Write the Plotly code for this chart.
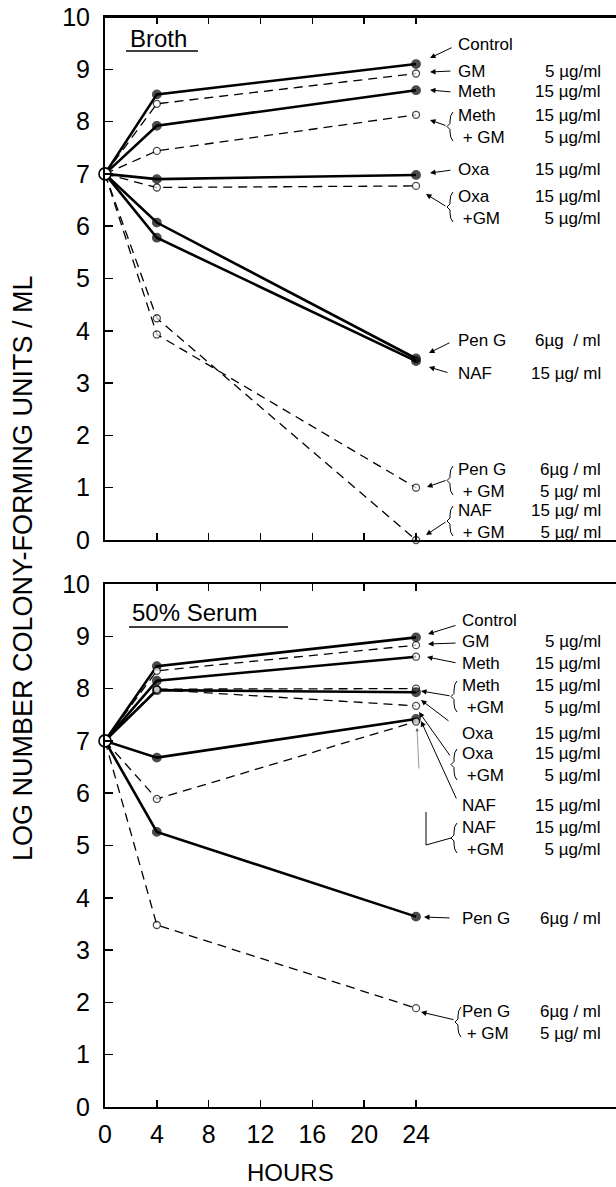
import plotly.graph_objects as go

# ---------------- data ----------------
hours = [0, 4, 24]
x_tick_vals = [0, 4, 8, 12, 16, 20, 24]
x_tick_text = ["0", "4", "8", "12", "16", "20", "24"]
y_tick_vals = [0, 1, 2, 3, 4, 5, 6, 7, 8, 9, 10]
y_tick_text = ["0", "1", "2", "3", "4", "5", "6", "7", "8", "9", "10"]

series = ["Control", "GM", "Meth", "Meth+GM", "Oxa", "Oxa+GM", "Pen G", "NAF", "Pen G+GM", "NAF+GM"]

# Broth (log CFU/ml at 0, 4, 24 h)
broth_control = [7.0, 8.52, 9.10]
broth_gm = [7.0, 8.34, 8.92]
broth_meth = [7.0, 7.92, 8.60]
broth_meth_gm = [7.0, 7.44, 8.13]
broth_oxa = [7.0, 6.90, 6.98]
broth_oxa_gm = [7.0, 6.74, 6.77]
broth_peng = [7.0, 6.07, 3.47]
broth_naf = [7.0, 5.78, 3.42]
broth_peng_gm = [7.0, 3.93, 1.00]
broth_naf_gm = [7.0, 4.24, 0.00]

# 50% Serum
serum_control = [7.0, 8.43, 8.98]
serum_gm = [7.0, 8.34, 8.83]
serum_meth = [7.0, 8.15, 8.61]
serum_meth_gm = [7.0, 7.99, 8.00]
serum_oxa = [7.0, 7.97, 7.93]
serum_oxa_gm = [7.0, 7.98, 7.67]
serum_peng = [7.0, 5.26, 3.64]
serum_naf = [7.0, 6.68, 7.42]
serum_peng_gm = [7.0, 3.48, 1.89]
serum_naf_gm = [7.0, 5.89, 7.37]

broth_names = ["Control", "GM", "Meth", "Meth<br> + GM", "Oxa", "Oxa<br> +GM",
               "Pen G", "NAF", "Pen G<br> + GM", "NAF<br> + GM"]
broth_conc = ["", "5 µg/ml", "15 µg/ml", "15 µg/ml<br>5 µg/ml", "15 µg/ml",
              "15 µg/ml<br>5 µg/ml", "6µg  / ml", "15 µg/ ml", "6µg / ml<br>5 µg/ ml",
              "15 µg/ ml<br>5 µg/ ml"]
serum_names = ["Control", "GM", "Meth", "Meth<br> +GM", "Oxa", "Oxa<br> +GM",
               "NAF", "NAF<br> +GM", "Pen G", "Pen G<br> + GM"]
serum_conc = ["", "5 µg/ml", "15 µg/ml", "15 µg/ml<br>5 µg/ml", "15 µg/ml",
              "15 µg/ml<br>5 µg/ml", "15 µg/ml", "15 µg/ml<br>5 µg/ml", "6µg / ml",
              "6µg / ml<br>5 µg/ ml"]

broth = {"Control": broth_control, "GM": broth_gm, "Meth": broth_meth, "Meth+GM": broth_meth_gm,
         "Oxa": broth_oxa, "Oxa+GM": broth_oxa_gm, "Pen G": broth_peng, "NAF": broth_naf,
         "Pen G+GM": broth_peng_gm, "NAF+GM": broth_naf_gm}
serum = {"Control": serum_control, "GM": serum_gm, "Meth": serum_meth, "Meth+GM": serum_meth_gm,
         "Oxa": serum_oxa, "Oxa+GM": serum_oxa_gm, "Pen G": serum_peng, "NAF": serum_naf,
         "Pen G+GM": serum_peng_gm, "NAF+GM": serum_naf_gm}

# ---------------- styling / geometry ----------------
FONT = "Liberation Sans"
W, H = 616, 1187
L_PX, T_PX, B_PX = 105, 17, 80
X_MAX = (W - L_PX) / 12.96
TOP_ZERO, BOT_ZERO, PX_UNIT = 540.0, 1107.0, 52.3
PLOT_H = H - T_PX - B_PX

def hx(px):
    return (px - L_PX) / 12.96

def vy(py, panel):
    return ((TOP_ZERO if panel == 0 else BOT_ZERO) - py) / PX_UNIT

solid = {"Control", "Meth", "Oxa", "Pen G", "NAF"}
fills_broth = {s: [s in solid] * 2 for s in series}
fills_serum = {s: [s in solid] * 2 for s in series}
fills_serum["Meth"] = [True, False]

fig = go.Figure()

def add_panel(data, fills, xa, ya):
    for s in series:
        y = data[s]
        is_solid = s in solid
        fig.add_trace(go.Scatter(
            x=hours, y=y, mode="lines", xaxis=xa, yaxis=ya, showlegend=False,
            line=dict(color="black", width=2.6 if is_solid else 1.3,
                      dash="solid" if is_solid else "9px,6px"),
            hoverinfo="skip"))
    for s in series:
        y = data[s]
        f = fills[s]
        fig.add_trace(go.Scatter(
            x=hours[1:], y=y[1:], mode="markers", xaxis=xa, yaxis=ya, showlegend=False,
            cliponaxis=False,
            marker=dict(size=[8.5 if ff else 7 for ff in f],
                        color=["black" if ff else "white" for ff in f],
                        line=dict(color="black", width=1.3)),
            hoverinfo="skip"))
    fig.add_trace(go.Scatter(
        x=[hours[0]], y=[data["Control"][0]], mode="markers", xaxis=xa, yaxis=ya,
        showlegend=False, cliponaxis=False,
        marker=dict(size=12, color="white", line=dict(color="black", width=1.6)),
        hoverinfo="skip"))

add_panel(broth, fills_broth, "x", "y")
add_panel(serum, fills_serum, "x2", "y2")

annotations = []
shapes = []
LBL = 17

def label_block(panel, names, concs, ys, name_x, conc_x):
    xr, yr = ("x", "y") if panel == 0 else ("x2", "y2")
    for n, c, py in zip(names, concs, ys):
        annotations.append(dict(x=hx(name_x), y=vy(py, panel), xref=xr, yref=yr, text=n,
                                showarrow=False, xanchor="left", yanchor="middle", align="left",
                                font=dict(family=FONT, size=LBL, color="black")))
        if c:
            annotations.append(dict(x=hx(conc_x), y=vy(py, panel), xref=xr, yref=yr, text=c,
                                    showarrow=False, xanchor="right", yanchor="middle", align="right",
                                    font=dict(family=FONT, size=LBL, color="black")))

def arrow(panel, tail, tip):
    xr, yr = ("x", "y") if panel == 0 else ("x2", "y2")
    annotations.append(dict(x=hx(tip[0]), y=vy(tip[1], panel), ax=hx(tail[0]), ay=vy(tail[1], panel),
                            xref=xr, yref=yr, axref=xr, ayref=yr, text="", showarrow=True,
                            arrowhead=2, arrowsize=1.1, arrowwidth=1.0, arrowcolor="black",
                            standoff=0, startstandoff=0))

def brace(panel, xb, ytop, ybot):
    xr, yr = ("x", "y") if panel == 0 else ("x2", "y2")
    ym = (ytop + ybot) / 2
    pts = lambda px, py: f"{hx(px)},{vy(py, panel)}"
    path = (f"M {pts(xb + 3, ytop)} Q {pts(xb, ytop + 3)} {pts(xb, ytop + 9)} "
            f"L {pts(xb, ym - 3)} L {pts(xb - 3, ym)} L {pts(xb, ym + 3)} "
            f"L {pts(xb, ybot - 9)} Q {pts(xb, ybot - 3)} {pts(xb + 3, ybot)}")
    shapes.append(dict(type="path", path=path, xref=xr, yref=yr,
                       line=dict(color="black", width=1)))

# top panel labels
label_block(0, broth_names, broth_conc, [44, 71, 91, 126.5, 169, 207, 340, 373, 480, 521], 456, 603)
arrow(0, (453, 47), (430, 58))
arrow(0, (452, 71), (430, 72))
arrow(0, (452, 92), (430, 90))
brace(0, 450, 112, 141); arrow(0, (447, 126), (430, 120))
arrow(0, (452, 170), (430, 173))
brace(0, 450, 192, 222); arrow(0, (447, 207), (426, 194))
arrow(0, (451, 342), (429, 353))
arrow(0, (449, 373), (429, 367))
brace(0, 450, 466, 495); arrow(0, (447, 480), (427, 487))
brace(0, 450, 506, 536); arrow(0, (447, 521), (426, 535))

# bottom panel labels
label_block(1, serum_names, serum_conc, [620, 641, 663, 696.5, 733, 764.5, 805, 838, 918, 1022], 460, 603)
arrow(1, (457, 625), (428, 634))
arrow(1, (457, 643), (428, 644))
arrow(1, (457, 663), (427, 657))
brace(1, 454, 681, 712); arrow(1, (451, 696), (421, 691))
arrow(1, (450, 722), (421, 700))
brace(1, 454, 749, 780); arrow(1, (451, 757), (419, 712))
arrow(1, (457, 800), (421, 721))
brace(1, 454, 823, 853)
shapes.append(dict(type="path", xref="x2", yref="y2", line=dict(color="black", width=1),
                   path=f"M {hx(451)},{vy(838, 1)} L {hx(426)},{vy(845, 1)} L {hx(426)},{vy(812, 1)}"))
annotations.append(dict(x=hx(417), y=vy(728, 1), ax=hx(419), ay=vy(770, 1), xref="x2", yref="y2",
                        axref="x2", ayref="y2", text="", showarrow=True, arrowhead=2, arrowsize=1.1,
                        arrowwidth=0.6, arrowcolor="#555", standoff=0))
arrow(1, (451, 918), (424, 917))
brace(1, 458, 1007, 1037); arrow(1, (455, 1020), (421, 1012))

# panel titles with underline
annotations.append(dict(x=hx(128), y=vy(38, 0), xref="x", yref="y", text="Broth", showarrow=False,
                        xanchor="left", yanchor="middle", font=dict(family=FONT, size=24, color="black")))
shapes.append(dict(type="line", xref="x", yref="y", x0=hx(126), x1=hx(198), y0=vy(51, 0), y1=vy(51, 0),
                   line=dict(color="black", width=1.5)))
annotations.append(dict(x=hx(130), y=vy(612, 1), xref="x2", yref="y2", text="50% Serum", showarrow=False,
                        xanchor="left", yanchor="middle", font=dict(family=FONT, size=24, color="black")))
shapes.append(dict(type="line", xref="x2", yref="y2", x0=hx(129), x1=hx(288), y0=vy(627, 1), y1=vy(627, 1),
                   line=dict(color="black", width=1.5)))

# frame line along the top of the upper panel
shapes.append(dict(type="line", xref="x domain", yref="y domain", x0=0, x1=1, y0=1, y1=1,
                   line=dict(color="black", width=2)))

# axis titles (paper coords relative to plot area)
annotations.append(dict(x=(23 - L_PX) / (W - L_PX), y=(BOT_ZERO - 568) / PLOT_H, xref="paper", yref="paper",
                        text="LOG NUMBER COLONY-FORMING UNITS / ML", textangle=-90, showarrow=False,
                        xanchor="center", yanchor="middle", font=dict(family=FONT, size=27, color="black")))
annotations.append(dict(x=(290 - L_PX) / (W - L_PX), y=(BOT_ZERO - 1172) / PLOT_H, xref="paper", yref="paper",
                        text="HOURS", showarrow=False, xanchor="center", yanchor="middle",
                        font=dict(family=FONT, size=24, color="black")))

xcommon = dict(range=[0, X_MAX], tickvals=x_tick_vals, ticktext=x_tick_text, ticks="inside", ticklen=7,
               tickwidth=1.5, tickcolor="black", showline=True, linewidth=2, linecolor="black",
               mirror="ticks", showgrid=False, zeroline=False, automargin=False,
               ticklabeloverflow="allow",
               tickfont=dict(family=FONT, size=25, color="black"))
ycommon = dict(range=[0, 10], tickvals=y_tick_vals, ticktext=y_tick_text, ticks="inside", ticklen=8,
               tickwidth=1.5, tickcolor="black", showline=True, linewidth=2, linecolor="black",
               showgrid=False, zeroline=False, ticklabelstandoff=8, automargin=False,
               ticklabeloverflow="allow",
               tickfont=dict(family=FONT, size=25, color="black"))

top_lo = (BOT_ZERO - TOP_ZERO) / PLOT_H
bot_hi = (10 * PX_UNIT) / PLOT_H

fig.update_layout(
    width=W, height=H, paper_bgcolor="white", plot_bgcolor="white",
    margin=dict(l=L_PX, r=0, t=T_PX, b=B_PX, autoexpand=False),
    xaxis=dict(anchor="y", showticklabels=False, **xcommon),
    yaxis=dict(anchor="x", domain=[top_lo, 1], **ycommon),
    xaxis2=dict(anchor="y2", showticklabels=True, ticklabelstandoff=4, **xcommon),
    yaxis2=dict(anchor="x2", domain=[0, bot_hi], **ycommon),
    annotations=annotations, shapes=shapes, showlegend=False,
)

# place the figure flush with the page corner (no default body margin), no mode bar
fig.write_html("out.html", config={"displayModeBar": False, "staticPlot": True},
               post_script="document.body.style.margin='0px';")
